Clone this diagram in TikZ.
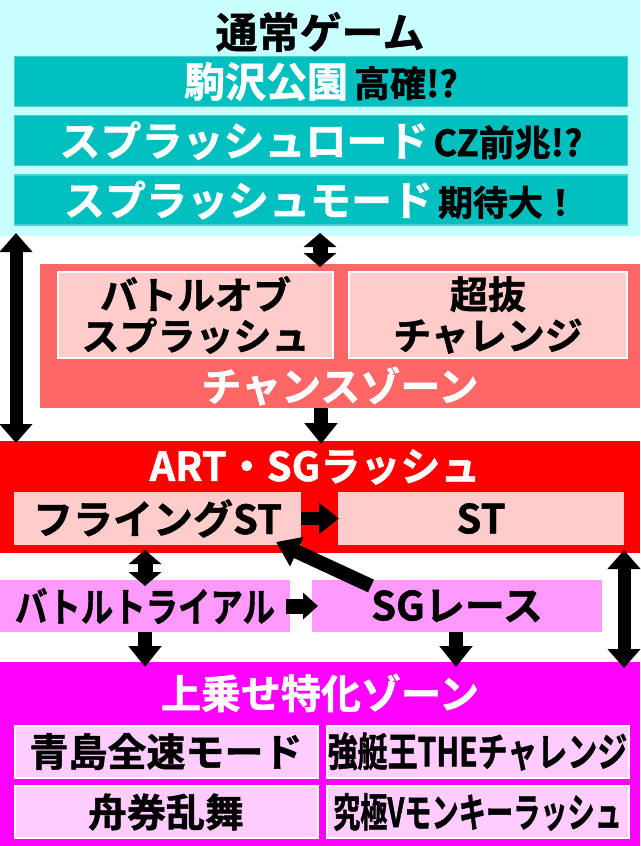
\documentclass[tikz,border=0pt]{standalone}
\usepackage{fontspec}
\usepackage{graphicx}
\setmainfont{Noto Sans CJK JP}[BoldFont={Noto Sans CJK JP Bold},BoldFeatures={FakeBold=1.2}]
\usetikzlibrary{arrows.meta}
\definecolor{cyanbg}{RGB}{200,255,255}
\definecolor{tealf}{RGB}{0,191,191}
\definecolor{tealb}{RGB}{70,210,210}
\definecolor{salmon}{RGB}{255,102,102}
\definecolor{pinkc}{RGB}{255,204,204}
\definecolor{redz}{RGB}{255,0,0}
\definecolor{lav}{RGB}{255,153,255}
\definecolor{magz}{RGB}{255,0,255}
\definecolor{lpink}{RGB}{255,204,255}
\newcommand\fsz[2]{\fontsize{#1}{#2}\selectfont\bfseries}
\newcommand\nx[2]{\scalebox{#1}[1]{#2}}
\begin{document}
\begin{tikzpicture}[x=1pt,y=-1pt,
  every node/.style={inner sep=0pt, outer sep=0pt},
  zone/.style={rectangle, minimum width=640pt},
  pbox/.style={rectangle, font={\fsz{40}{44}}, align=center},
  wlab/.style={font={\fsz{40}{44}}, text=white},
  fat/.style={line width=14pt, -{Triangle[width=32pt,length=21pt]}},
  fatd/.style={line width=13pt, {Triangle[width=32pt,length=19pt]}-{Triangle[width=32pt,length=19pt]}},
  fats/.style={line width=15pt, {Triangle[width=32pt,length=14pt]}-{Triangle[width=32pt,length=14pt]}}]
\useasboundingbox (0,0) rectangle (640,846);
\fill[white] (0,0) rectangle (640,846);

% ---- normal game zone
\node[zone, fill=cyanbg, minimum height=236pt] (normal) at (320,118) {};
\node[font={\fsz{42}{46}}] (ttl) at (320,32) {通常ゲーム};
\node[pbox, fill=tealf, draw=tealb, line width=1.5pt, minimum width=613pt, minimum height=50pt] (bar1) at (321,81.5)
  {\textcolor{white}{\fsz{41}{44}駒沢公園}\hspace{6pt}{\fsz{36}{40}高確!?}};
\node[pbox, fill=tealf, draw=tealb, line width=1.5pt, minimum width=613pt, minimum height=50pt] (bar2) at (321,140.5)
  {\textcolor{white}{\fsz{41}{44}スプラッシュロード}\hspace{5pt}{\fsz{36}{40}CZ前兆!?}};
\node[pbox, fill=tealf, draw=tealb, line width=1.5pt, minimum width=613pt, minimum height=50pt] (bar3) at (321,200)
  {\textcolor{white}{\fsz{41}{44}スプラッシュモード}\hspace{5pt}{\fsz{35}{40}期待大！}};

% ---- chance zone
\node[rectangle, fill=salmon, minimum width=600pt, minimum height=144pt] (chance) at (340,336) {};
\node[pbox, fill=pinkc, draw=white, line width=2.5pt, minimum width=275pt, minimum height=86pt, font={\fsz{38}{41}}] (cz1) at (195.5,315) {バトルオブ\\スプラッシュ};
\node[pbox, fill=pinkc, draw=white, line width=2.5pt, minimum width=278pt, minimum height=86pt, font={\fsz{38}{41}}] (cz2) at (488,315) {超抜\\チャレンジ};
\node[wlab] (czl) at (340,386) {チャンスゾーン};

% ---- ART
\node[zone, fill=redz, minimum height=112pt] (art) at (320,497) {};
\node[wlab] (artl) at (315,467) {ART・SGラッシュ};
\node[pbox, fill=pinkc, minimum width=287pt, minimum height=53pt] (flyst) at (157.5,518.5) {フライングST};
\node[pbox, fill=pinkc, minimum width=286pt, minimum height=53pt] (st) at (481,518.5) {ST};

% ---- middle row
\node[pbox, fill=lav, minimum width=290pt, minimum height=52pt] (btrial) at (145,606) {\nx{0.81}{バトルトライアル}};
\node[pbox, fill=lav, minimum width=290pt, minimum height=52pt] (sgrace) at (457,606) {SGレース};

% ---- bonus zone
\node[zone, fill=magz, minimum height=184pt] (bonus) at (320,754) {};
\node[wlab] (bl) at (320,693) {上乗せ特化ゾーン};
\node[pbox, fill=lpink, draw=white, line width=2pt, minimum width=303pt, minimum height=52pt, font={\fsz{39}{42}}] (b1) at (166,751.5) {青島全速モード};
\node[pbox, fill=lpink, draw=white, line width=2pt, minimum width=302pt, minimum height=52pt] (b2) at (477.5,751.5) {\nx{0.75}{強艇王THEチャレンジ}};
\node[pbox, fill=lpink, draw=white, line width=2pt, minimum width=303pt, minimum height=52pt, font={\fsz{39}{42}}] (b3) at (166,812) {舟券乱舞};
\node[pbox, fill=lpink, draw=white, line width=2pt, minimum width=302pt, minimum height=52pt] (b4) at (477.5,812) {\nx{0.68}{究極Vモンキーラッシュ}};

% ---- connectors
\draw[fatd] ([xshift=16pt,yshift=3pt]normal.south west) -- ([xshift=16pt,yshift=-2pt]art.north west);
\draw[fats] ([yshift=3pt]normal.south) -- ([xshift=-20pt,yshift=-3pt]chance.north);
\draw[fat] ([xshift=-19pt]chance.south) -- ([xshift=1pt,yshift=-3pt]art.north);
\draw[line width=13pt, -{Triangle[width=30pt,length=20pt]}] (flyst.east) -- ([xshift=1pt]st.west);
\draw[line width=14pt, -{Triangle[width=31pt,length=23pt]}] ([xshift=-86pt,yshift=-6pt]sgrace.north) -- ([xshift=-25pt,yshift=3pt]flyst.south east);
\draw[fats] ([xshift=-12.5pt,yshift=-5pt]flyst.south) -- ([yshift=-6pt]btrial.north);
\draw[line width=15pt, -{Triangle[width=26pt,length=15pt]}] ([xshift=-4pt]btrial.east) -- ([xshift=6pt]sgrace.west);
\draw[fat] (btrial.south) -- ([xshift=-175pt,yshift=-5pt]bonus.north);
\draw[fat] ([xshift=-1pt]sgrace.south) -- ([xshift=136pt,yshift=-5pt]bonus.north);
\draw[fatd] ([xshift=-16pt,yshift=3pt]art.south east) -- ([xshift=-16pt,yshift=-6pt]bonus.north east);
\end{tikzpicture}
\end{document}
